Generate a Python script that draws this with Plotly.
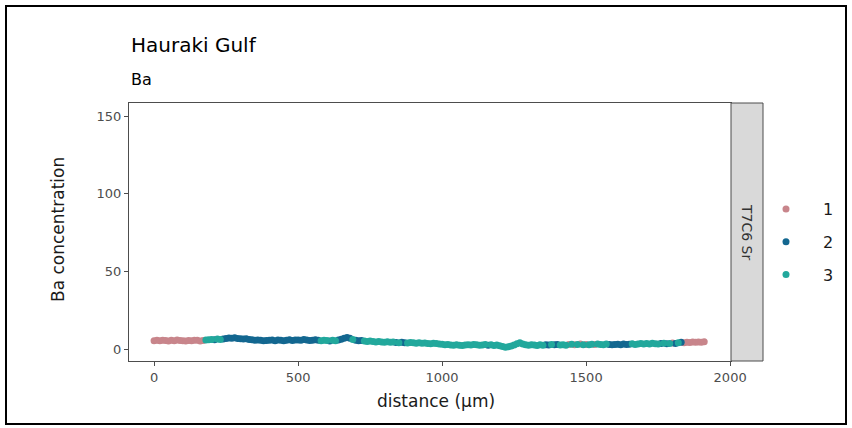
import plotly.graph_objects as go

# ---- data ----
distance = [i * 10 for i in range(192)]

concentration = [
    5.3, 5.6, 5.4, 5.7, 5.5, 5.2, 5.6, 5.4, 5.8, 5.5,
    5.3, 5.1, 5.5, 5.4, 5.7, 5.6, 5.2, 5.5, 5.9, 6.0,
    6.2, 6.0, 6.4, 6.1, 6.5, 6.8, 7.1, 6.9, 7.2, 6.8,
    6.7, 6.4, 6.6, 6.2, 6.0, 5.7, 5.9, 5.6, 5.3, 5.5,
    5.6, 5.8, 5.4, 5.9, 5.6, 5.3, 5.7, 6.0, 5.5, 5.8,
    5.9, 5.6, 6.1, 5.8, 5.5, 5.7, 6.0, 5.6, 5.4, 5.7,
    5.5, 5.2, 5.6, 5.4, 5.8, 6.3, 6.9, 7.4, 7.0, 6.2,
    5.6, 5.3, 5.5, 5.1, 4.9, 5.2, 4.8, 4.6, 4.9, 4.5,
    4.4, 4.7, 4.3, 4.5, 4.2, 4.0, 4.4, 4.1, 3.9, 4.2,
    4.0, 3.8, 4.1, 3.7, 3.9, 3.6, 3.4, 3.7, 3.5, 3.3,
    3.1, 2.8, 3.0, 2.6, 2.4, 2.7, 2.5, 2.3, 2.6, 2.8,
    2.6, 2.9, 2.7, 2.4, 2.6, 2.9, 2.5, 2.7, 2.3, 2.6,
    2.1, 1.6, 1.2, 1.5, 2.0, 2.6, 3.4, 4.1, 3.2, 2.7,
    2.5, 2.8, 2.6, 2.3, 2.7, 2.5, 2.8, 2.6, 3.0, 2.7,
    2.9, 2.6, 2.8, 2.5, 2.9, 3.1, 2.7, 2.9, 3.2, 2.8,
    3.0, 2.7, 3.1, 2.9, 3.3, 3.0, 2.8, 3.2, 3.0, 2.7,
    2.9, 3.1, 2.8, 3.2, 2.9, 3.1, 3.4, 3.0, 3.3, 3.5,
    3.2, 3.6, 3.3, 3.7, 3.4, 3.2, 3.5, 3.8, 3.4, 3.6,
    3.9, 3.6, 4.0, 4.3, 4.1, 4.4, 4.2, 4.5, 4.3, 4.6,
    4.4, 4.7,
]

cluster = [
    1, 1, 1, 1, 1, 1, 1, 1, 1, 1,
    1, 1, 1, 1, 1, 1, 1, 1, 3, 3,
    3, 2, 3, 3, 2, 2, 2, 2, 2, 2,
    2, 2, 2, 2, 2, 2, 2, 2, 2, 2,
    2, 2, 2, 2, 2, 2, 2, 2, 2, 2,
    2, 2, 2, 2, 2, 2, 2, 2, 3, 3,
    3, 2, 3, 3, 2, 2, 2, 2, 2, 3,
    2, 2, 2, 3, 3, 3, 3, 3, 3, 3,
    3, 3, 3, 3, 2, 3, 2, 2, 3, 3,
    3, 3, 3, 3, 3, 3, 3, 3, 3, 3,
    3, 3, 3, 3, 3, 3, 3, 3, 3, 3,
    3, 3, 3, 3, 3, 3, 2, 3, 3, 3,
    3, 3, 3, 3, 3, 3, 3, 3, 3, 3,
    3, 3, 3, 3, 3, 3, 2, 2, 3, 2,
    2, 3, 3, 3, 1, 3, 1, 3, 1, 3,
    1, 3, 3, 1, 3, 3, 3, 3, 2, 2,
    2, 2, 2, 2, 2, 2, 3, 3, 3, 3,
    3, 3, 3, 3, 3, 3, 2, 3, 2, 3,
    1, 2, 3, 2, 1, 1, 1, 1, 1, 1,
    1, 1,
]

cluster_names = ["1", "2", "3"]
cluster_colors = {"1": "#C8858B", "2": "#136790", "3": "#22A89C"}

x_ticks = [0, 500, 1000, 1500, 2000]
y_ticks = [0, 50, 100, 150]

FONT = "DejaVu Sans, Arial"

fig = go.Figure()
for name in cluster_names:
    xs = [d for d, c in zip(distance, cluster) if str(c) == name]
    ys = [v for v, c in zip(concentration, cluster) if str(c) == name]
    fig.add_trace(go.Scatter(
        x=xs, y=ys, mode="markers", name=name, legendgroup=name,
        marker=dict(color=cluster_colors[name], size=7, line=dict(width=0)),
    ))

# Pixel geometry
W, H = 852, 428
L, R, T, B = 129, 89, 103, 67
pw = W - L - R
ph = H - T - B
panel_right = (731 - L) / pw

def px(x):
    return (x - L) / pw

def py(y):
    return (H - B - y) / ph

axis_common = dict(
    showgrid=False, zeroline=False, showline=True, linecolor="#4D4D4D",
    linewidth=1, mirror=True, ticks="outside", ticklen=4, tickcolor="#4D4D4D",
    tickfont=dict(family=FONT, size=13, color="#4D4D4D"),
)

fig.update_layout(
    width=W, height=H,
    margin=dict(l=L, r=R, t=T, b=B, pad=0),
    paper_bgcolor="white", plot_bgcolor="white",
    font=dict(family=FONT),
    xaxis=dict(domain=[0, panel_right], range=[-87, 2003],
               tickvals=x_ticks, **axis_common),
    yaxis=dict(range=[-7.7, 158.4], tickvals=y_ticks, **axis_common),
    showlegend=True,
    legend=dict(x=px(749), y=py(192), xanchor="left", yanchor="top",
                font=dict(family=FONT, size=16, color="#1A1A1A"),
                tracegroupgap=9, traceorder="grouped",
                itemwidth=64, bgcolor="rgba(0,0,0,0)"),
    shapes=[
        dict(type="rect", xref="paper", yref="paper",
             x0=panel_right, x1=1, y0=0, y1=1,
             fillcolor="#D9D9D9", line=dict(color="#4D4D4D", width=1)),
        dict(type="rect", xref="paper", yref="paper",
             x0=px(6), x1=px(846), y0=py(424), y1=py(6),
             line=dict(color="black", width=2), fillcolor="rgba(0,0,0,0)"),
    ],
    annotations=[
        dict(text="Hauraki Gulf", x=px(129), y=py(45), xref="paper", yref="paper",
             xanchor="left", yanchor="middle", showarrow=False,
             font=dict(family=FONT, size=20, color="#000000")),
        dict(text="Ba", x=px(129), y=py(79), xref="paper", yref="paper",
             xanchor="left", yanchor="middle", showarrow=False,
             font=dict(family=FONT, size=16, color="#000000")),
        dict(text="distance (µm)", x=px(436), y=py(401), xref="paper", yref="paper",
             xanchor="center", yanchor="middle", showarrow=False,
             font=dict(family=FONT, size=17, color="#1A1A1A")),
        dict(text="Ba concentration", x=px(58), y=py(230), xref="paper", yref="paper",
             xanchor="center", yanchor="middle", showarrow=False, textangle=-90,
             font=dict(family=FONT, size=17, color="#1A1A1A")),
        dict(text="T7C6 Sr", x=px(747), y=0.5, xref="paper", yref="paper",
             xanchor="center", yanchor="middle", showarrow=False, textangle=90,
             font=dict(family=FONT, size=14, color="#333333")),
    ],
)

fig.write_html("out.html")
